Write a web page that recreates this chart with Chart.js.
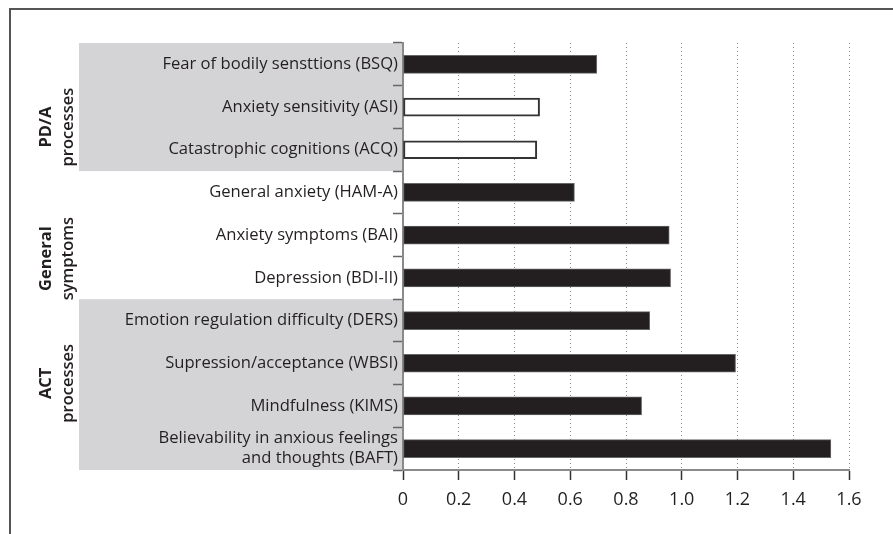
<!DOCTYPE html>
<html>
<head>
<meta charset="utf-8">
<script src="https://cdn.jsdelivr.net/npm/chart.js@4"></script>
<style>
  html, body { margin: 0; padding: 0; background: #fff; }
  #wrap { width: 893px; height: 534px; position: relative; }
</style>
</head>
<body>
<div id="wrap"><canvas id="chart" width="893" height="534"></canvas></div>
<script>
// ---- data ----
const labels = [
  'Fear of bodily sensttions (BSQ)',
  'Anxiety sensitivity (ASI)',
  'Catastrophic cognitions (ACQ)',
  'General anxiety (HAM-A)',
  'Anxiety symptoms (BAI)',
  'Depression (BDI-II)',
  'Emotion regulation difficulty (DERS)',
  'Supression/acceptance (WBSI)',
  'Mindfulness (KIMS)',
  ['Believability in anxious feelings', 'and thoughts (BAFT)']
];
const values = [0.695, 0.49, 0.48, 0.615, 0.955, 0.96, 0.885, 1.193, 0.856, 1.535];
const openBars = [false, true, true, false, false, false, false, false, false, false];
const xTicks = [0, 0.2, 0.4, 0.6, 0.8, 1.0, 1.2, 1.4, 1.6];

// groups: first/last category index, label lines, label centre (category units)
const groups = [
  { from: 0, to: 2, lines: ['PD/A', 'processes'], center: 1.47, shaded: true },
  { from: 3, to: 5, lines: ['General', 'symptoms'], center: 4.55, shaded: false },
  { from: 6, to: 9, lines: ['ACT', 'processes'], center: 7.47, shaded: true }
];

const FONT = '"Open Sans", "DejaVu Sans", sans-serif';
const TEXT = '#231f20';

// ---- shaded bands + group titles + frame ----
const groupPlugin = {
  id: 'groups',
  beforeDraw(chart) {
    const ctx = chart.ctx;
    const y = chart.scales.y;
    const half = (y.getPixelForValue(1) - y.getPixelForValue(0)) / 2;
    ctx.save();
    ctx.fillStyle = '#d4d4d6';
    groups.filter(g => g.shaded).forEach(g => {
      const top = y.getPixelForValue(g.from) - half;
      const bot = y.getPixelForValue(g.to) + half;
      ctx.fillRect(79, top, y.right - 79, bot - top);
    });
    ctx.restore();
  },
  afterDraw(chart) {
    const ctx = chart.ctx;
    const y = chart.scales.y;
    const half = (y.getPixelForValue(1) - y.getPixelForValue(0)) / 2;
    ctx.save();
    ctx.fillStyle = TEXT;
    ctx.textAlign = 'center';
    ctx.textBaseline = 'middle';
    groups.forEach(g => {
      const cy = y.getPixelForValue(0) + g.center * half * 2;
      ctx.save();
      ctx.translate(0, cy);
      ctx.rotate(-Math.PI / 2);
      ctx.font = 'bold 16.5px ' + FONT;
      ctx.fillText(g.lines[0], 0, 46);
      ctx.font = '600 16.5px ' + FONT;
      ctx.fillText(g.lines[1], 0, 68);
      ctx.restore();
    });
    // outer frame (top and left edges)
    ctx.strokeStyle = '#555';
    ctx.lineWidth = 2;
    ctx.beginPath();
    ctx.moveTo(893, 9);
    ctx.lineTo(10, 9);
    ctx.lineTo(10, 534);
    ctx.stroke();
    ctx.restore();
  }
};

new Chart(document.getElementById('chart'), {
  type: 'bar',
  data: {
    labels: labels,
    datasets: [{
      data: values,
      backgroundColor: openBars.map(o => o ? '#ffffff' : '#231f20'),
      borderColor: openBars.map(o => o ? '#333333' : '#666666'),
      borderWidth: openBars.map(o => o ? 2 : 1),
      borderSkipped: false,
      barThickness: 18
    }]
  },
  options: {
    indexAxis: 'y',
    responsive: false,
    animation: false,
    layout: { padding: { left: 0, right: 44, top: 43, bottom: 0 } },
    plugins: { legend: { display: false }, tooltip: { enabled: false } },
    scales: {
      x: {
        type: 'linear',
        min: 0,
        max: 1.6,
        afterBuildTicks(scale) { scale.ticks = xTicks.map(v => ({ value: v })); },
        afterFit(scale) { scale.height = 64; },
        ticks: {
          color: TEXT,
          font: { family: FONT, size: 18 },
          padding: 9,
          autoSkip: false,
          maxRotation: 0,
          callback: v => v === 0 ? '0' : v.toFixed(1)
        },
        grid: {
          color: ctx => ctx.tick && ctx.tick.value === 0 ? 'rgba(0,0,0,0)' : '#8a8a8a',
          lineWidth: 1,
          drawTicks: true,
          tickLength: 10,
          tickColor: '#333',
          tickWidth: 1.5,
          tickBorderDash: []
        },
        border: { display: true, color: '#8a8a8a', width: 2, dash: [1, 3] }
      },
      y: {
        afterFit(scale) { scale.width = 403; },
        ticks: {
          color: TEXT,
          font: { family: FONT, size: 16.6 },
          padding: -5,
          autoSkip: false,
          crossAlign: 'near'
        },
        grid: {
          offset: true,
          drawOnChartArea: false,
          drawTicks: true,
          tickLength: 10,
          tickColor: '#666',
          tickWidth: 1.5
        },
        border: { display: true, color: '#8a8a8a', width: 2 }
      }
    }
  },
  plugins: [groupPlugin]
});
</script>
</body>
</html>
